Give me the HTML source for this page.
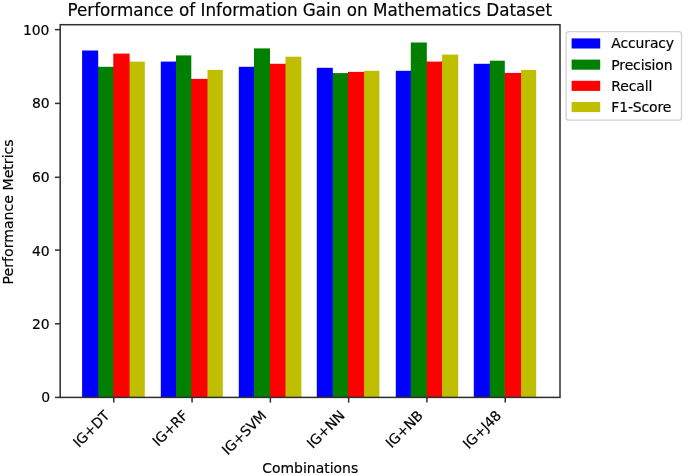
<!DOCTYPE html>
<html><head><meta charset="utf-8"><title>Performance of Information Gain on Mathematics Dataset</title>
<style>
html,body{margin:0;padding:0;background:#fff;}
svg{display:block;}
text{font-family:"DejaVu Sans","Liberation Sans",sans-serif;fill:#000;stroke:#000;stroke-width:0.18px;}
</style></head><body>
<svg width="685" height="476" viewBox="0 0 685 476">
<rect x="0" y="0" width="685" height="476" fill="#ffffff"/>
<defs><filter id="soft" x="0" y="0" width="685" height="476" filterUnits="userSpaceOnUse" color-interpolation-filters="sRGB"><feGaussianBlur stdDeviation="0.45"/></filter></defs>
<g filter="url(#soft)">

<g>
<rect x="82.10" y="50.50" width="16.10" height="346.90" fill="#0000ff"/>
<rect x="97.60" y="66.80" width="1.6" height="330.60" fill="#0000ff"/>
<rect x="98.20" y="66.80" width="15.10" height="330.60" fill="#008000"/>
<rect x="112.70" y="66.80" width="1.6" height="330.60" fill="#008000"/>
<rect x="113.30" y="53.60" width="16.30" height="343.80" fill="#ff0000"/>
<rect x="129.00" y="61.60" width="1.6" height="335.80" fill="#ff0000"/>
<rect x="129.60" y="61.60" width="15.20" height="335.80" fill="#bfbf00"/>
<rect x="160.80" y="61.60" width="15.20" height="335.80" fill="#0000ff"/>
<rect x="175.40" y="61.60" width="1.6" height="335.80" fill="#0000ff"/>
<rect x="176.00" y="55.40" width="15.30" height="342.00" fill="#008000"/>
<rect x="190.70" y="78.90" width="1.6" height="318.50" fill="#008000"/>
<rect x="191.30" y="78.90" width="16.20" height="318.50" fill="#ff0000"/>
<rect x="206.90" y="78.90" width="1.6" height="318.50" fill="#ff0000"/>
<rect x="207.50" y="69.90" width="15.30" height="327.50" fill="#bfbf00"/>
<rect x="238.80" y="66.80" width="15.20" height="330.60" fill="#0000ff"/>
<rect x="253.40" y="66.80" width="1.6" height="330.60" fill="#0000ff"/>
<rect x="254.00" y="48.40" width="16.00" height="349.00" fill="#008000"/>
<rect x="269.40" y="63.80" width="1.6" height="333.60" fill="#008000"/>
<rect x="270.00" y="63.80" width="15.50" height="333.60" fill="#ff0000"/>
<rect x="284.90" y="63.80" width="1.6" height="333.60" fill="#ff0000"/>
<rect x="285.50" y="56.70" width="15.90" height="340.70" fill="#bfbf00"/>
<rect x="316.80" y="67.80" width="16.00" height="329.60" fill="#0000ff"/>
<rect x="332.20" y="73.10" width="1.6" height="324.30" fill="#0000ff"/>
<rect x="332.80" y="73.10" width="15.20" height="324.30" fill="#008000"/>
<rect x="347.40" y="73.10" width="1.6" height="324.30" fill="#008000"/>
<rect x="348.00" y="71.90" width="16.10" height="325.50" fill="#ff0000"/>
<rect x="363.50" y="71.90" width="1.6" height="325.50" fill="#ff0000"/>
<rect x="364.10" y="70.80" width="15.30" height="326.60" fill="#bfbf00"/>
<rect x="395.80" y="70.80" width="15.00" height="326.60" fill="#0000ff"/>
<rect x="410.20" y="70.80" width="1.6" height="326.60" fill="#0000ff"/>
<rect x="410.80" y="42.50" width="16.00" height="354.90" fill="#008000"/>
<rect x="426.20" y="61.60" width="1.6" height="335.80" fill="#008000"/>
<rect x="426.80" y="61.60" width="15.30" height="335.80" fill="#ff0000"/>
<rect x="441.50" y="61.60" width="1.6" height="335.80" fill="#ff0000"/>
<rect x="442.10" y="54.60" width="16.10" height="342.80" fill="#bfbf00"/>
<rect x="473.80" y="63.80" width="16.10" height="333.60" fill="#0000ff"/>
<rect x="489.30" y="63.80" width="1.6" height="333.60" fill="#0000ff"/>
<rect x="489.90" y="60.70" width="14.90" height="336.70" fill="#008000"/>
<rect x="504.20" y="72.90" width="1.6" height="324.50" fill="#008000"/>
<rect x="504.80" y="72.90" width="16.30" height="324.50" fill="#ff0000"/>
<rect x="520.50" y="72.90" width="1.6" height="324.50" fill="#ff0000"/>
<rect x="521.10" y="69.90" width="15.10" height="327.50" fill="#bfbf00"/>
</g>
<rect x="60.2" y="24.7" width="499.80" height="372.70" fill="none" stroke="#2e2e2e" stroke-width="1.5"/>
<line x1="55.00" x2="60.2" y1="397.40" y2="397.40" stroke="#2e2e2e" stroke-width="1.5"/>
<text x="50.00" y="402.28" font-size="13.95" letter-spacing="-0.2" text-anchor="end">0</text>
<line x1="55.00" x2="60.2" y1="323.80" y2="323.80" stroke="#2e2e2e" stroke-width="1.5"/>
<text x="49.40" y="329.48" font-size="13.95" letter-spacing="-0.2" text-anchor="end">20</text>
<line x1="55.00" x2="60.2" y1="250.10" y2="250.10" stroke="#2e2e2e" stroke-width="1.5"/>
<text x="49.40" y="255.68" font-size="13.95" letter-spacing="-0.2" text-anchor="end">40</text>
<line x1="55.00" x2="60.2" y1="177.30" y2="177.30" stroke="#2e2e2e" stroke-width="1.5"/>
<text x="49.40" y="181.88" font-size="13.95" letter-spacing="-0.2" text-anchor="end">60</text>
<line x1="55.00" x2="60.2" y1="103.40" y2="103.40" stroke="#2e2e2e" stroke-width="1.5"/>
<text x="49.40" y="107.98" font-size="13.95" letter-spacing="-0.2" text-anchor="end">80</text>
<line x1="55.00" x2="60.2" y1="29.65" y2="29.65" stroke="#2e2e2e" stroke-width="1.5"/>
<text x="49.10" y="34.98" font-size="13.95" letter-spacing="-0.2" text-anchor="end">100</text>
<line x1="113.75" x2="113.75" y1="397.4" y2="402.60" stroke="#2e2e2e" stroke-width="1.5"/>
<text transform="translate(110.45,416.60) rotate(-45)" font-size="13.95" letter-spacing="-0.25" text-anchor="end">IG+DT</text>
<line x1="192.05" x2="192.05" y1="397.4" y2="402.60" stroke="#2e2e2e" stroke-width="1.5"/>
<text transform="translate(188.75,416.60) rotate(-45)" font-size="13.95" letter-spacing="-0.25" text-anchor="end">IG+RF</text>
<line x1="270.35" x2="270.35" y1="397.4" y2="402.60" stroke="#2e2e2e" stroke-width="1.5"/>
<text transform="translate(267.05,416.60) rotate(-45)" font-size="13.95" letter-spacing="-0.25" text-anchor="end">IG+SVM</text>
<line x1="348.65" x2="348.65" y1="397.4" y2="402.60" stroke="#2e2e2e" stroke-width="1.5"/>
<text transform="translate(345.35,416.60) rotate(-45)" font-size="13.95" letter-spacing="-0.25" text-anchor="end">IG+NN</text>
<line x1="426.95" x2="426.95" y1="397.4" y2="402.60" stroke="#2e2e2e" stroke-width="1.5"/>
<text transform="translate(423.65,416.60) rotate(-45)" font-size="13.95" letter-spacing="-0.25" text-anchor="end">IG+NB</text>
<line x1="505.25" x2="505.25" y1="397.4" y2="402.60" stroke="#2e2e2e" stroke-width="1.5"/>
<text transform="translate(501.95,416.60) rotate(-45)" font-size="13.95" letter-spacing="-0.25" text-anchor="end">IG+J48</text>
<text x="309.70" y="15.7" font-size="16.785" text-anchor="middle">Performance of Information Gain on Mathematics Dataset</text>
<text x="310.20" y="473.4" font-size="13.95" text-anchor="middle">Combinations</text>
<text transform="translate(13.3,211.85) rotate(-90)" font-size="14.12" text-anchor="middle">Performance Metrics</text>
<rect x="566.1" y="31.6" width="115.4" height="88.6" rx="2.8" ry="2.8" fill="#ffffff" stroke="#d2d2d2" stroke-width="1.3"/>
<rect x="571.6" y="38.40" width="28.6" height="10.1" fill="#0000ff"/>
<text x="611.3" y="48.40" font-size="13.95" letter-spacing="-0.12">Accuracy</text>
<rect x="571.6" y="59.60" width="28.6" height="10.1" fill="#008000"/>
<text x="611.3" y="69.60" font-size="13.95" letter-spacing="-0.12">Precision</text>
<rect x="571.6" y="80.80" width="28.6" height="10.1" fill="#ff0000"/>
<text x="611.3" y="90.80" font-size="13.95" letter-spacing="-0.12">Recall</text>
<rect x="571.6" y="102.00" width="28.6" height="10.1" fill="#bfbf00"/>
<text x="611.3" y="112.00" font-size="13.95" letter-spacing="-0.12">F1-Score</text>
</g></svg></body></html>
